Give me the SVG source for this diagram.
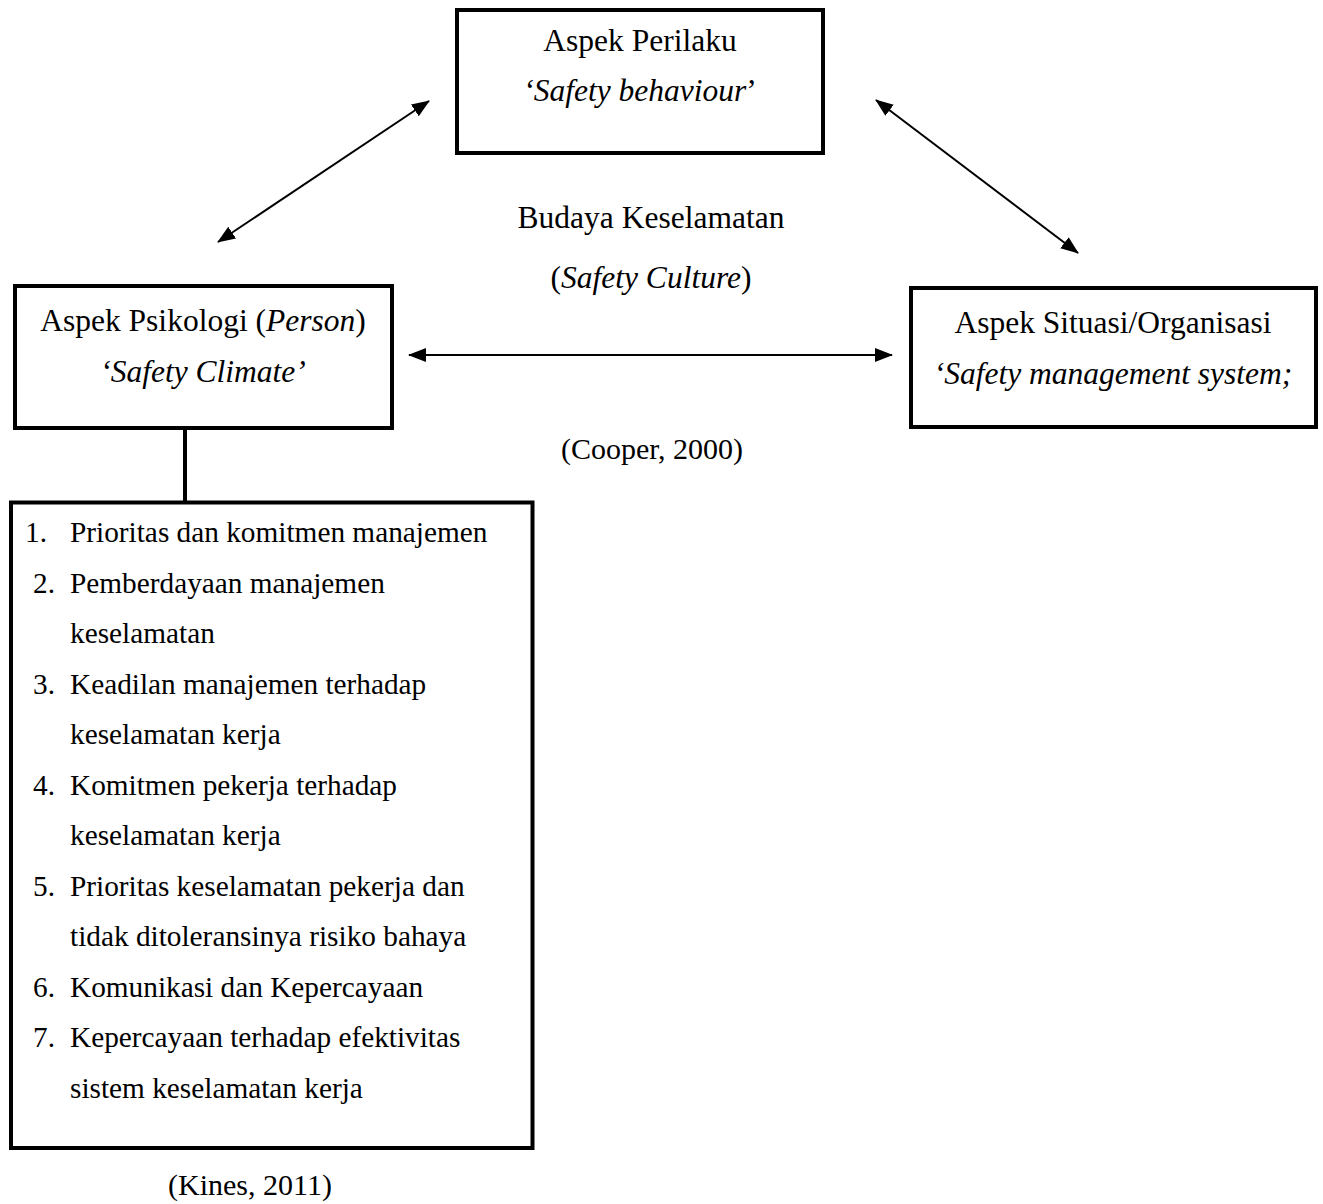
<svg xmlns="http://www.w3.org/2000/svg" width="1323" height="1204" viewBox="0 0 1323 1204">
<style>
  text { font-family: "Liberation Serif", "Times New Roman", serif; font-size: 31.5px; fill: #000; }
  .c { text-anchor: middle; }
  .i { font-style: italic; }
  .l { font-size: 29.3px; }
  .box { fill: #fff; stroke: #000; stroke-width: 4; }
  .conn { stroke: #000; stroke-width: 2; fill: none; }
</style>
<defs>
  <marker id="ah" viewBox="0 0 18 14" refX="17" refY="7" markerWidth="18" markerHeight="14" markerUnits="userSpaceOnUse" orient="auto-start-reverse">
    <path d="M0,0 L18,7 L0,14 Z" fill="#000"/>
  </marker>
</defs>
<rect width="1323" height="1204" fill="#fff"/>

<g id="connectors">
  <line class="conn" x1="218" y1="242" x2="429" y2="101" marker-start="url(#ah)" marker-end="url(#ah)"/>
  <line class="conn" x1="876" y1="100" x2="1078" y2="253" marker-start="url(#ah)" marker-end="url(#ah)"/>
  <line class="conn" x1="409" y1="355" x2="892" y2="355" marker-start="url(#ah)" marker-end="url(#ah)"/>
  <line x1="185" y1="428" x2="185" y2="502" stroke="#000" stroke-width="4"/>
</g>

<g id="node-perilaku">
  <rect class="box" x="457" y="10" width="366" height="143"/>
  <text class="c" x="640" y="51">Aspek Perilaku</text>
  <text class="c" x="640" y="101"><tspan class="i">‘Safety behaviour</tspan>’</text>
</g>

<g id="label-budaya">
  <text class="c" x="651" y="228">Budaya Keselamatan</text>
  <text class="c" x="651" y="288">(<tspan class="i">Safety Culture</tspan>)</text>
</g>

<g id="node-psikologi">
  <rect class="box" x="15" y="286" width="377" height="142"/>
  <text class="c" x="203" y="331">Aspek Psikologi (<tspan class="i">Person</tspan>)</text>
  <text class="c i" x="203" y="382">‘Safety Climate’</text>
</g>

<g id="node-situasi">
  <rect class="box" x="911" y="288" width="405" height="139"/>
  <text class="c" x="1113" y="333">Aspek Situasi/Organisasi</text>
  <text class="c i" x="1113" y="384">‘Safety management system;</text>
</g>

<text class="c" x="652" y="459" style="font-size:30px">(Cooper, 2000)</text>

<g id="node-list">
  <rect class="box" x="11" y="502.5" width="521.5" height="645.5"/>
  <text class="l" x="25" y="542">1.</text><text class="l" x="70" y="542">Prioritas dan komitmen manajemen</text>
  <text class="l" x="33" y="593">2.</text><text class="l" x="70" y="593">Pemberdayaan manajemen</text>
  <text class="l" x="70" y="643">keselamatan</text>
  <text class="l" x="33" y="694">3.</text><text class="l" x="70" y="694">Keadilan manajemen terhadap</text>
  <text class="l" x="70" y="744">keselamatan kerja</text>
  <text class="l" x="33" y="795">4.</text><text class="l" x="70" y="795">Komitmen pekerja terhadap</text>
  <text class="l" x="70" y="845">keselamatan kerja</text>
  <text class="l" x="33" y="896">5.</text><text class="l" x="70" y="896">Prioritas keselamatan pekerja dan</text>
  <text class="l" x="70" y="946">tidak ditoleransinya risiko bahaya</text>
  <text class="l" x="33" y="997">6.</text><text class="l" x="70" y="997">Komunikasi dan Kepercayaan</text>
  <text class="l" x="33" y="1047">7.</text><text class="l" x="70" y="1047">Kepercayaan terhadap efektivitas</text>
  <text class="l" x="70" y="1098">sistem keselamatan kerja</text>
</g>

<text class="c" x="250" y="1195" style="font-size:30px">(Kines, 2011)</text>
</svg>
